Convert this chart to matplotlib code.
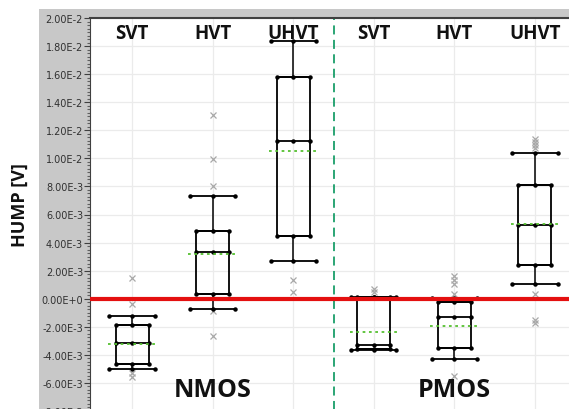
import numpy as np
import matplotlib.pyplot as plt
from matplotlib.ticker import MultipleLocator, AutoMinorLocator, FuncFormatter
from matplotlib.patches import Rectangle

# Datos (en unidades de 1e-3 V)
categorias = ['SVT', 'HVT', 'UHVT', 'SVT', 'HVT', 'UHVT']
grupos = ['NMOS', 'PMOS']
bigote_inf = [-5.02, -0.74, 2.67, -3.62, -4.33, 1.02]
q1 = [-4.64, 0.36, 4.45, -3.57, -3.52, 2.40]
mediana = [-3.17, 3.33, 11.24, -3.30, -1.33, 5.24]
q3 = [-1.86, 4.79, 15.83, 0.10, -0.26, 8.09]
bigote_sup = [-1.24, 7.34, 18.38, 0.12, 0.07, 10.40]
media = [-3.20, 3.19, 10.55, -2.40, -1.93, 5.30]
atipicos = [
    [1.45, -0.40, -5.30, -5.55],
    [13.10, 9.95, 8.00, -0.90, -2.65],
    [1.30, 0.45],
    [0.70, 0.50],
    [1.60, 1.35, 1.05, 0.35, -5.50],
    [11.40, 11.20, 10.95, 10.75, 0.35, -1.55, -1.75],
]
escala = 1e-3

fig = plt.figure(figsize=(5.69, 4.10), dpi=100)
# panel gris de fondo
fig.patches.append(Rectangle((39 / 569, 0), 1, 1 - 10 / 410, transform=fig.transFigure,
                             facecolor='#c8c8c8', edgecolor='none', zorder=-10))

ax = fig.add_axes([90 / 569, -2 / 410, 479 / 569, 393 / 410])
ax.set_facecolor('white')

x = np.arange(1, len(categorias) + 1)
ancho_caja = 0.205
ancho_tapa = 0.28
ancho_media = 0.30

for i, xi in enumerate(x):
    lo, a, m, b, hi = [v * escala for v in (bigote_inf[i], q1[i], mediana[i], q3[i], bigote_sup[i])]
    # caja
    ax.plot([xi - ancho_caja, xi + ancho_caja, xi + ancho_caja, xi - ancho_caja, xi - ancho_caja],
            [a, a, b, b, a], color='black', lw=1.3, zorder=4)
    # bigotes
    ax.plot([xi, xi], [b, hi], color='black', lw=1.1, zorder=4)
    ax.plot([xi, xi], [lo, a], color='black', lw=1.1, zorder=4)
    # tapas, cuartiles y mediana con puntos
    for y, w in ((hi, ancho_tapa), (lo, ancho_tapa), (a, ancho_caja), (b, ancho_caja), (m, ancho_caja)):
        ax.plot([xi - w, xi, xi + w], [y, y, y], color='black', lw=1.3,
                marker='o', ms=2.2, zorder=5)
    # media
    ax.plot([xi - ancho_media, xi + ancho_media], [media[i] * escala] * 2,
            color='#55c030', lw=1.3, ls=(0, (1.5, 2)), zorder=6)
    # atipicos
    ax.plot([xi] * len(atipicos[i]), np.array(atipicos[i]) * escala, ls='none',
            marker='x', ms=4, mew=0.9, color='#a8a8a8', zorder=3)

# linea cero y separador
ax.axhline(0, color='#e41010', lw=3, zorder=7)
ax.axvline(3.5, color='#1a9e6a', lw=1.3, ls=(0, (5, 3)), zorder=2)

ax.set_xlim(1 - 42 / 80.5, 6 + 34 / 80.5)
ax.set_ylim(-8e-3, 2e-2)

ax.yaxis.set_major_locator(MultipleLocator(2e-3))
ax.yaxis.set_minor_locator(AutoMinorLocator(8))


def fmt(v, pos):
    if abs(v) < 1e-12:
        return '0.00E+0'
    e = int(np.floor(np.log10(abs(v))))
    return f'{v / 10 ** e:.2f}E{e}'


ax.yaxis.set_major_formatter(FuncFormatter(fmt))
ax.set_xticks(x)
ax.set_xticklabels([])
ax.tick_params(axis='x', length=0)
ax.tick_params(axis='y', which='major', direction='out', length=4, width=0.8,
               color='#404040', labelsize=7, labelcolor='#303030', pad=1)
ax.tick_params(axis='y', which='minor', direction='out', length=2, width=0.8, color='#606060')
for lab in ax.get_yticklabels():
    lab.set_family(['Liberation Sans Narrow', 'DejaVu Sans'])

ax.grid(True, which='major', color='#ebebeb', lw=0.9, zorder=0)
ax.set_axisbelow(True)
for s in ('right', 'bottom'):
    ax.spines[s].set_visible(False)
ax.spines['left'].set_color('#404040')
ax.spines['top'].set_color('#404040')
ax.spines['top'].set_linewidth(1.5)

fuente = ['Open Sans', 'DejaVu Sans']
for xi, c in zip(x, categorias):
    ax.text(xi, 1.0 - 5 / 393, c, transform=ax.get_xaxis_transform(), ha='center', va='top',
            fontsize=13.5, fontweight='bold', family=fuente, color='#111111', zorder=8)
for xi, g in zip((2, 5), grupos):
    ax.text(xi, 1 - 372 / 393, g, transform=ax.get_xaxis_transform(),
            ha='center', va='center', fontsize=18, fontweight='bold', family=fuente,
            color='#111111', zorder=8)

fig.text(20 / 569, 1 - 205 / 410, 'HUMP [V]', rotation=90, ha='center', va='center',
         fontsize=13, fontweight='bold', family=fuente, color='#111111')

fig.savefig('out.png', dpi=100)
